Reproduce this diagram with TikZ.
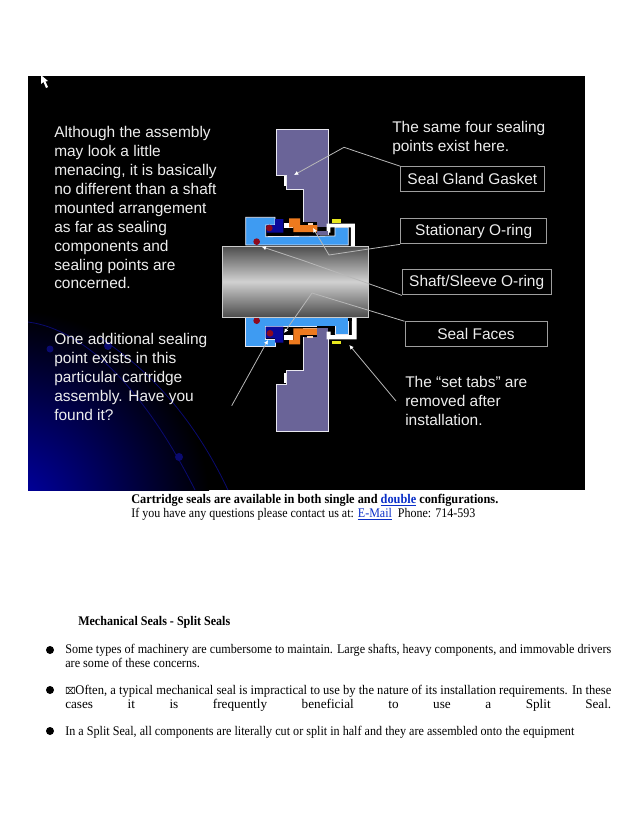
\documentclass[tikz,border=0pt]{standalone}
\usepackage{fontspec}
\usepackage{graphicx}
\usetikzlibrary{arrows.meta}
\setmainfont{Liberation Serif}
\newfontfamily\slidefont{Liberation Sans}
\newfontfamily\symfont{DejaVu Sans}
\definecolor{slidetext}{HTML}{EDEDED}
\definecolor{gland}{HTML}{6A6498}
\definecolor{ltblue}{HTML}{3E9BF2}
\definecolor{dkblue}{HTML}{0A0A9A}
\definecolor{oring}{HTML}{8E0A1E}
\definecolor{sealorange}{HTML}{EE7A1E}
\definecolor{tabyellow}{HTML}{E8E81E}
\definecolor{linkblue}{HTML}{0A2FC8}
\definecolor{arcblue}{HTML}{0A0A70}
\newcommand{\fitw}[2]{\resizebox{#1pt}{\height}{#2}}
\tikzset{
  x=0.75pt,y=-0.75pt,
  slidetxt/.style={anchor=north west,inner sep=0pt,align=left,text=slidetext,font=\slidefont\fontsize{11.6}{14.2}\selectfont},
  labelbox/.style={draw=white!62!black,line width=0.75pt,text=slidetext,inner sep=0pt,font=\slidefont\fontsize{11.6}{14.2}\selectfont},
  leader/.style={draw=white!72!black,line width=0.6pt},
  pointer/.style={leader,-{Latex[length=3.2pt,width=3.2pt,color=white]}},
  part/.style={line width=0.6pt,draw=white!85!gland},
  bodyline/.style={anchor=base west,inner sep=0pt,font=\fontsize{9.9}{11}\selectfont},
  bul/.style={circle,fill=black,inner sep=0pt,minimum size=6pt},
}
\begin{document}
\begin{tikzpicture}
\useasboundingbox (0,0) rectangle (638,826);
\fill[white] (0,0) rectangle (638,826);
% slide background
\begin{scope}
\clip (28,76) rectangle (585,490);
\fill[black] (28,76) rectangle (585,490);
\shade[inner color=blue!68!black,outer color=black] (10,510) circle (200);
\draw[arcblue,line width=0.6pt] (28,322) .. controls (90,330) and (150,400) .. (195,490);
\draw[arcblue,line width=0.6pt] (100,338) .. controls (150,370) and (195,420) .. (228,490);
\fill[arcblue] (50,349) circle (3.5);
\fill[arcblue] (108,346) circle (4);
\fill[arcblue] (179,457) circle (4);
\end{scope}
% cursor
\fill[white] (41,75) -- (41,84) -- (43.5,82) -- (46,88) -- (48,87) -- (45.5,81.5) -- (48,81) -- cycle;
% left text
\node[slidetxt] (introtext) at (54,126) {Although the assembly\\may look a little\\menacing, it is basically\\no different than a shaft\\mounted arrangement\\as far as sealing\\components and\\sealing points are\\concerned.};
\node[slidetxt] (extratext) at (54,333) {One additional sealing\\point exists in this\\particular cartridge\\assembly. Have you\\found it?};
% right text
\node[slidetxt] (sametext) at (392,121) {The same four sealing\\points exist here.};
\node[slidetxt] (tabstext) at (405,376) {The “set tabs” are\\removed after\\installation.};
% label boxes
\node[labelbox,minimum width=107.5pt,minimum height=18.7pt] (gasket) at (472.4,179.2) {Seal Gland Gasket};
\node[labelbox,minimum width=109.5pt,minimum height=19.2pt] (stat) at (473.7,231) {Stationary O-ring};
\node[labelbox,minimum width=111.5pt,minimum height=18.9pt] (sleeve) at (476.7,282.3) {Shaft/Sleeve O-ring};
\node[labelbox,minimum width=106.5pt,minimum height=18.7pt] (faces) at (476,334.2) {Seal Faces};
% upper assembly (zoom coordinates)
\begin{scope}[shift={(200,110)},scale=1/3]
\filldraw[part,fill=gland] (228,57) -- (385,57) -- (385,374) -- (310,374) -- (310,237) -- (258,237) -- (258,195) -- (228,195) -- cycle;
\fill[white] (252,197) rectangle (259,228);
\filldraw[part,fill=ltblue] (137,322) -- (225,322) -- (225,345) -- (197,345) -- (197,380) -- (405,378) -- (405,352) -- (445,352) -- (445,405) -- (137,405) -- cycle;
\fill[dkblue] (225,327) -- (250,327) -- (250,368) -- (200,368) -- (200,345) -- (225,345) -- cycle;
\fill[oring] (208,354) circle (10);
\fill[oring] (170,395) circle (10);
\fill[black] (255,352) rectangle (385,376);
\fill[black] (255,327) rectangle (267,338);
\fill[white] (253,338) rectangle (280,353);
\fill[sealorange] (267,325) -- (300,325) -- (300,345) -- (352,345) -- (352,366) -- (280,366) -- (280,352) -- (267,352) -- cycle;
\fill[black] (310,336) rectangle (352,345);
\fill[white!70!sealorange] (325,338) rectangle (338,346);
\fill[white] (380,341) -- (465,341) -- (465,408) -- (453,408) -- (453,352) -- (391,352) -- (391,368) -- (380,368) -- cycle;
\fill[gland] (352,362) rectangle (385,374);
\fill[tabyellow] (397,326) rectangle (423,338);
\end{scope}
% lower assembly (zoom coordinates)
\begin{scope}[shift={(200,290)},scale=1/3]
\filldraw[part,fill=gland] (310,115) -- (385,115) -- (385,423) -- (228,423) -- (228,284) -- (258,284) -- (258,242) -- (310,242) -- cycle;
\fill[white] (252,250) rectangle (259,280);
\filldraw[part,fill=ltblue] (137,82) -- (445,82) -- (445,133) -- (405,133) -- (405,108) -- (197,108) -- (197,147) -- (225,147) -- (225,170) -- (137,170) -- cycle;
\fill[dkblue] (197,110) -- (250,110) -- (250,158) -- (225,158) -- (225,145) -- (197,145) -- cycle;
\fill[oring] (210,130) circle (10);
\fill[oring] (170,92) circle (10);
\fill[black] (255,110) rectangle (310,135);
\fill[black] (352,108) rectangle (405,125);
\fill[white] (253,135) rectangle (280,150);
\fill[sealorange] (280,115) -- (352,115) -- (352,135) -- (300,135) -- (300,163) -- (267,163) -- (267,150) -- (280,150) -- cycle;
\fill[black] (310,135) rectangle (352,142);
\fill[white!70!sealorange] (322,137) rectangle (338,144);
\fill[gland] (352,113) rectangle (385,135);
\fill[white] (456,80) -- (470,80) -- (470,148) -- (380,148) -- (380,125) -- (392,125) -- (392,135) -- (456,135) -- cycle;
\fill[black] (445,80) rectangle (456,92);
\fill[tabyellow] (397,152) rectangle (423,163);
\end{scope}
% shaft
\shade[top color=white!30!black,bottom color=white!30!black,middle color=white!82!black,draw=white!80!black,line width=0.6pt] (222,246) rectangle (368,317);
% connectors
\coordinate (gasketbend) at (344,147.3);
\coordinate (gasketend) at (294,175);
\coordinate (statbend) at (329,255);
\coordinate (statend) at (313,228);
\coordinate (sleevebend) at (301.7,260);
\coordinate (sleeveend) at (261.7,246.7);
\coordinate (facesbend) at (312,293);
\coordinate (facesend) at (284,333);
\coordinate (extrastart) at (231.7,405.7);
\coordinate (extraend) at (268,340);
\coordinate (tabsstart) at (396,401);
\coordinate (tabsend) at (349.3,345);
\draw[pointer] (gasket.north west) -- (gasketbend) -- (gasketend);
\draw[pointer] (stat.south west) -- (statbend) -- (statend);
\draw[pointer] (sleeve.south west) -- (sleevebend) -- (sleeveend);
\draw[pointer] (faces.north west) -- (facesbend) -- (facesend);
\draw[pointer] (extrastart) -- (extraend);
\draw[pointer] (tabsstart) -- (tabsend);
% body text
\node[bodyline] (cart) at (131,503) {\fitw{275.3}{\bfseries Cartridge seals are available in both single and \textcolor{linkblue}{\underline{double}} configurations.}};
\node[bodyline] (contact) at (131,517) {\fitw{258}{If you have any questions please contact us at: \textcolor{linkblue}{\underline{E-Mail}}\ \ Phone: 714-593}};
\node[bodyline] (heading) at (78,625) {\fitw{114}{\bfseries Mechanical Seals - Split Seals}};
\node[bul] (b1) at (50,650) {};
\node[bul] (b2) at (50,690) {};
\node[bul] (b3) at (50,731) {};
\node[bodyline] (l1) at (65,653.5) {\fitw{409.5}{Some types of machinery are cumbersome to maintain. Large shafts, heavy components, and immovable drivers}};
\node[bodyline] (l2) at (65,667.5) {\fitw{101}{are some of these concerns.}};
\node[bodyline] (l3) at (65,694.5) {\fitw{409.5}{{\symfont\fontsize{7}{9}\selectfont ⌧}Often, a typical mechanical seal is impractical to use by the nature of its installation requirements. In these}};
\node[bodyline] (l4) at (65,708.5) {\makebox[409.5pt][s]{cases\hfill it\hfill is\hfill frequently\hfill beneficial\hfill to\hfill use\hfill a\hfill Split\hfill Seal.}};
\node[bodyline] (l5) at (65,735.5) {\fitw{381.8}{In a Split Seal, all components are literally cut or split in half and they are assembled onto the equipment}};
\end{tikzpicture}
\end{document}
